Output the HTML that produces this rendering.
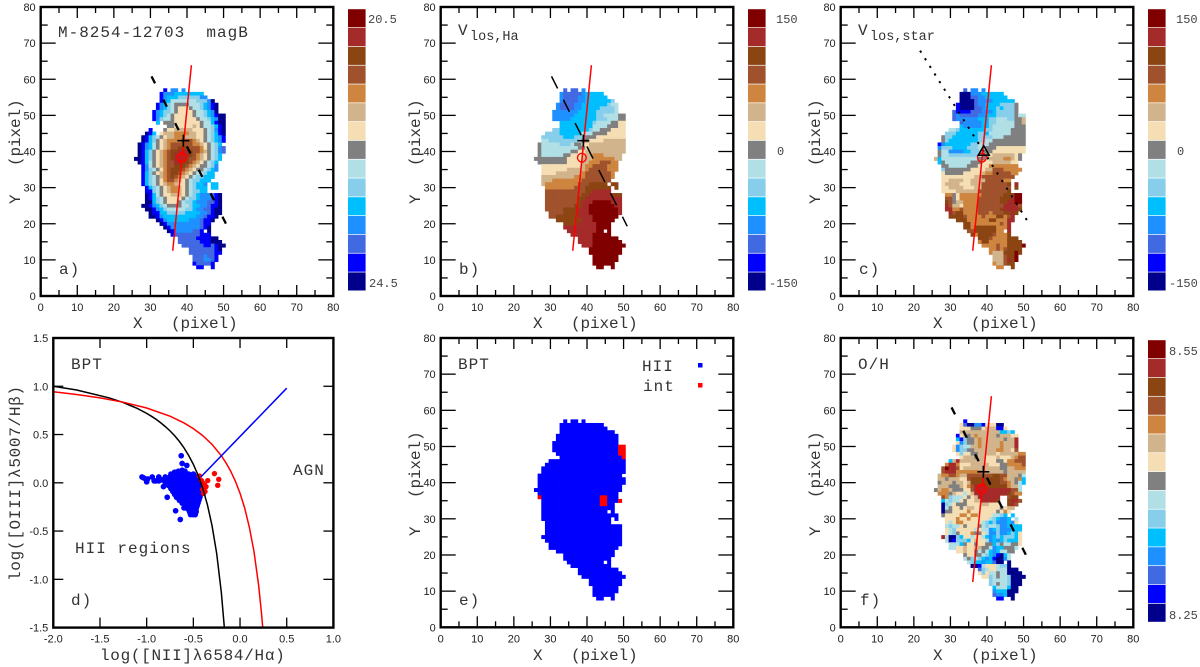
<!DOCTYPE html>
<html lang="en">
<head>
<meta charset="utf-8">
<title>M-8254-12703 maps and BPT diagram</title>
<style>
html,body{margin:0;padding:0;background:#fff;width:1200px;height:667px;overflow:hidden}
svg{display:block}
text{white-space:pre}
.m{font-family:"Liberation Mono",monospace;fill:#333;font-size:16px;letter-spacing:1px}
.a{font-family:"Liberation Mono",monospace;fill:#333;font-size:16px;letter-spacing:-.1px}
.d{font-family:"Liberation Mono",monospace;fill:#333;font-size:16px;letter-spacing:.7px}
.s{font-family:"Liberation Mono",monospace;fill:#333;font-size:13.5px}
.c{font-family:"Liberation Mono",monospace;fill:#444;font-size:12px}
</style>
</head>
<body>
<svg id="figure" xmlns="http://www.w3.org/2000/svg" width="1200" height="667" viewBox="0 0 1200 667">
<rect width="1200" height="667" fill="#fff"/>
<g id="panel-a"></g>
<g id="panel-b"></g>
<g id="panel-c"></g>
<g id="panel-d"></g>
<g id="panel-e"></g>
<g id="panel-f"></g>

<g>
<text class="m" x="58" y="37">M-8254-12703  magB</text>
<text class="m" x="59" y="274">a)</text>
<text class="a" x="133" y="328">X   (pixel)</text>
<text class="a" transform="translate(20,204) rotate(-90)">Y   (pixel)</text>
<text class="c" x="368" y="23">20.5</text>
<text class="c" x="369" y="287">24.5</text>
</g>
<g>
<text class="m" x="458" y="35">V</text>
<text class="s" x="470" y="40">los,Ha</text>
<text class="m" x="459" y="274">b)</text>
<text class="a" x="533" y="328">X   (pixel)</text>
<text class="a" transform="translate(420,204) rotate(-90)">Y   (pixel)</text>
<text class="c" x="776" y="23">150</text>
<text class="c" x="777" y="155">0</text>
<text class="c" x="769" y="287">-150</text>
</g>
<g>
<text class="m" x="858" y="35">V</text>
<text class="s" x="870" y="40">los,star</text>
<text class="m" x="859" y="274">c)</text>
<text class="a" x="933" y="328">X   (pixel)</text>
<text class="a" transform="translate(820,204) rotate(-90)">Y   (pixel)</text>
<text class="c" x="1176" y="23">150</text>
<text class="c" x="1177" y="155">0</text>
<text class="c" x="1169" y="287">-150</text>
</g>
<g>
<text class="m" x="71" y="369">BPT</text>
<text class="m" x="293" y="475">AGN</text>
<text class="m" x="75" y="553">HII regions</text>
<text class="m" x="71" y="605">d)</text>
<text class="d" x="100" y="660">log([NII]λ6584/Hα)</text>
<text class="d" transform="translate(20,581) rotate(-90)">log([OIII]λ5007/Hβ)</text>
</g>
<g>
<text class="m" x="458" y="369">BPT</text>
<text class="m" x="642" y="371">HII</text>
<rect x="698" y="363" width="4.5" height="4.5" fill="#0000ff"/>
<text class="m" x="643" y="391">int</text>
<rect x="698" y="383" width="4.5" height="4.5" fill="#ff0000"/>
<text class="m" x="459" y="605">e)</text>
<text class="a" x="533" y="660">X   (pixel)</text>
<text class="a" transform="translate(420,536) rotate(-90)">Y   (pixel)</text>
</g>
<g>
<text class="m" x="858" y="369">O/H</text>
<text class="m" x="860" y="605">f)</text>
<text class="a" x="933" y="660">X   (pixel)</text>
<text class="a" transform="translate(820,536) rotate(-90)">Y   (pixel)</text>
<text class="c" x="1169" y="355">8.55</text>
<text class="c" x="1169" y="619">8.25</text>
</g>
</svg>

<script>
// Map axis values
const mapTicks = [0,10,20,30,40,50,60,70,80];
const mapMinorTicks = [5,15,25,35,45,55,65,75];
// BPT axis values
const bptXTicks = [-2,-1.5,-1,-0.5,0,0.5,1];
const bptYTicks = [-1.5,-1,-0.5,0,0.5,1,1.5];
const bptXLabels = ["-2.0","-1.5","-1.0","-0.5","0.0","0.5","1.0"];
const bptYLabels = ["-1.5","-1.0","-0.5","0.0","0.5","1.0","1.5"];
// Colour-scale levels, top to bottom
const levelColors = ["#800000","#a52a2a","#8b4513","#a0522d","#cd853f","#d2b48c","#f5deb3","#808080","#b0e0e6","#87ceeb","#00bfff","#1e90ff","#4169e1","#0000ff","#00008b"];
const bptClassColors = ["#0000ff","#ff0000"];

// Overlay values in map pixel units
const paLineX = [36.1,41.2];
const paLineY = [12.5,63.9];
const minorAxisX = [30.3,51];
const minorAxisY = [60.8,19.3];
const starAxisX = [21.7,50.9];
const starAxisY = [67.9,21];
const centreCircle = [38.6,38.3];
const crossCentre = [39,43];
const triangleCentre = [39.1,40.2];

// Map rows: [Y, firstX, level, lastX, level, lastX, ...]; level -1 leaves a gap
const magBRows = [
[57,34,13,34,-1,35,11,37,-1,38,11,39],
[56,33,13,33,11,36,10,44],
[55,33,13,33,11,34,10,37,9,43,11,45],
[54,33,13,33,11,34,10,35,8,42,9,45,11,46,14,47],
[53,32,13,32,11,33,10,34,9,35,8,36,7,40,8,43,9,44,10,45,11,46,13,47,14,48],
[52,32,13,32,11,33,10,34,9,35,8,36,7,37,6,40,7,41,8,43,9,44,10,45,11,46,13,47,14,48],
[51,31,13,31,11,32,10,33,9,35,8,36,7,37,6,41,7,42,8,44,9,45,10,46,11,47,14,48],
[50,31,13,31,11,32,10,33,9,34,8,35,7,36,6,41,7,42,8,44,9,45,10,46,11,47,13,48,14,50],
[49,31,13,31,11,32,9,33,8,35,7,36,6,42,7,43,8,45,9,46,10,47,11,48,14,50],
[48,32,10,32,-1,33,7,36,6,43,7,44,8,46,10,47,13,48,14,50],
[47,35,7,36,6,41,5,42,6,43,7,44,8,46,9,47,10,48,13,49,14,50],
[46,30,13,30,-1,33,7,34,6,36,5,41,6,44,7,45,8,46,9,47,11,48,13,49,14,50],
[45,29,14,29,13,30,10,31,-1,32,6,33,5,36,4,40,5,42,6,44,7,45,8,46,9,47,10,48,13,49,14,50],
[44,28,14,28,13,29,10,30,9,31,8,32,7,33,6,34,5,36,4,39,5,42,6,44,7,45,8,46,9,47,10,48,11,49,13,50],
[43,28,14,28,13,29,10,30,9,31,7,32,6,33,5,34,4,38,3,41,4,42,5,43,6,44,7,45,8,46,9,47,10,48,11,49,13,50],
[42,27,14,27,13,28,11,29,10,30,8,31,7,32,6,33,5,34,4,35,3,41,4,43,5,44,6,45,7,46,8,47,9,48,10,49],
[41,27,14,27,13,28,11,29,10,30,8,31,7,32,6,33,5,34,4,35,3,37,2,40,3,43,4,44,6,45,7,46,8,47,9,48,11,49,12,50],
[40,27,14,27,13,28,10,29,9,30,7,31,6,32,5,33,4,34,3,35,2,37,1,40,2,41,3,43,4,44,5,45,7,46,8,47,9,48,11,49,12,50],
[39,27,14,27,13,28,10,29,9,30,7,31,6,32,5,33,4,34,3,35,2,36,1,40,2,41,3,42,4,43,5,44,6,45,7,46,8,47,9,48,10,49],
[38,26,14,27,13,28,10,29,9,30,7,31,6,32,5,33,4,34,3,35,2,36,1,39,2,40,3,42,4,43,5,44,6,45,7,46,8,47,9,48,10,49],
[37,27,14,27,13,28,10,29,8,30,7,31,6,32,5,33,4,34,3,36,1,38,2,40,3,41,4,42,5,43,6,44,7,45,8,46,9,47,10,48],
[36,28,13,28,11,29,8,30,7,31,6,32,5,33,4,34,3,36,2,39,3,40,4,41,5,42,6,43,7,45,8,46,9,47,11,48],
[35,28,13,28,11,29,9,30,8,31,7,32,6,33,4,34,3,35,2,38,3,39,4,40,5,41,6,42,7,44,8,45,9,46,10,47,11,48],
[34,28,13,28,10,29,9,30,7,31,6,32,5,33,4,34,3,35,2,37,3,38,4,39,5,40,6,41,7,42,8,44,9,45,10,47],
[33,28,13,28,10,29,9,30,8,31,7,32,5,33,4,34,3,35,2,36,3,37,4,38,5,39,6,40,7,41,8,42,9,44,10,47],
[32,28,13,28,10,29,9,30,8,31,7,32,6,33,4,34,3,36,4,37,5,38,6,39,7,40,8,41,9,43,10,46],
[31,28,13,28,10,29,9,30,8,31,7,32,6,33,5,34,4,36,5,37,6,39,7,40,8,41,9,42,10,44,11,45,-1,46,10,48],
[30,29,13,29,10,30,9,31,8,32,7,33,6,34,5,35,4,37,5,38,6,39,7,40,8,41,9,42,10,45,-1,46,10,48],
[29,29,13,30,9,31,8,32,7,33,6,34,5,35,4,37,5,38,6,39,7,40,8,41,9,43,10,45],
[28,29,14,29,13,30,10,31,8,32,7,33,6,35,5,38,6,39,7,40,8,41,9,42,10,43,11,46,12,47,13,48,14,49],
[27,29,14,29,13,30,10,31,9,32,8,33,7,34,6,38,7,39,8,40,9,42,10,43,11,46,12,47,13,48,14,49],
[26,29,14,30,10,31,9,32,8,33,7,34,6,37,7,38,8,39,9,41,10,42,11,45,12,47,13,48,14,49],
[25,28,14,29,13,30,11,31,10,32,9,33,8,34,7,38,8,40,9,41,10,43,11,45,12,46,13,48,14,49],
[24,29,14,30,13,31,11,32,10,33,9,34,8,39,9,41,10,42,11,44,12,46,13,47,14,49],
[23,30,14,30,13,32,10,34,9,39,10,43,11,45,12,46,13,47,14,49],
[22,30,14,31,13,32,11,33,10,42,11,44,12,45,13,47,14,48],
[21,32,14,32,13,33,11,34,10,40,11,43,12,44,13,46,14,47],
[20,33,14,33,13,34,11,43,12,44,13,46],
[19,34,14,34,13,35,11,43,12,44,13,45,14,46],
[18,35,14,35,13,36,11,41,12,43,13,44,-1,45,14,46],
[17,36,13,36,12,43,13,46],
[16,38,12,42,13,46,14,48],
[15,38,12,43,13,46,14,49],
[14,39,12,44,13,46,12,47,13,48,14,50],
[13,41,12,47,13,48,14,49],
[12,41,12,47,13,49],
[11,42,12,44,11,45,12,47,13,48],
[10,42,12,44,11,46,12,47,13,48],
[9,42,13,42,12,46,13,47],
[8,43,13,44,-1,46,13,47]
];

const vlosHaRows = [
[57,34,12,34,-1,35,12,37,-1,38,11,39],
[56,33,11,33,12,38,11,39,10,44],
[55,33,11,33,12,37,11,39,10,45],
[54,33,11,33,12,37,11,39,10,46,9,47],
[53,32,11,32,12,36,11,38,10,45,9,46,8,48],
[52,32,11,32,12,36,11,38,10,43,9,47,8,48],
[51,31,11,37,10,42,9,47,8,48],
[50,31,11,36,10,42,9,44,8,48,7,50],
[49,31,11,35,10,42,9,45,8,48,7,50],
[48,33,10,41,9,42,8,46,7,48,6,50],
[47,33,10,41,8,45,7,48,6,50],
[46,31,9,32,10,40,9,41,8,43,7,46,6,50],
[45,29,9,32,10,38,8,41,7,45,6,50],
[44,28,9,33,10,36,9,39,7,42,6,50],
[43,28,8,29,9,37,8,38,7,40,6,44,5,50],
[42,27,7,27,8,32,9,35,8,36,7,38,6,40,5,50],
[41,27,7,27,8,37,7,39,6,40,5,50],
[40,27,7,27,8,35,7,37,6,39,5,50],
[39,27,7,27,8,33,7,35,6,38,5,41,4,44,5,49],
[38,26,7,34,6,38,5,41,4,47,5,49],
[37,27,7,34,6,38,5,40,4,43,3,46,4,48],
[36,28,6,38,5,39,4,41,3,45,4,48],
[35,28,6,34,5,39,4,40,3,45,4,48],
[34,28,6,31,5,38,4,39,3,46,4,47],
[33,28,5,36,4,39,3,46,4,47],
[32,28,5,30,4,38,3,46],
[31,28,5,28,4,37,3,40,2,45,-1,46,2,48],
[30,29,4,36,3,39,2,46,-1,47,2,48],
[29,29,3,39,2,41,1,46],
[28,29,3,38,2,40,1,46,2,49],
[27,29,3,37,2,39,1,49],
[26,29,3,37,2,38,1,41,0,46,1,49],
[25,29,3,36,2,38,1,40,0,47,1,49],
[24,29,3,33,2,37,1,40,0,48,1,49],
[23,30,3,33,2,37,1,40,0,48,1,49],
[22,30,3,31,2,37,1,41,0,48],
[21,32,2,38,1,41,0,47],
[20,34,2,37,1,42,0,46],
[19,34,1,42,0,46],
[18,35,1,42,0,44,-1,45,0,46],
[17,36,1,41,0,46],
[16,38,1,41,0,48],
[15,38,1,41,0,49],
[14,39,1,41,0,50],
[13,41,0,49],
[12,41,0,49],
[11,42,0,48],
[10,42,0,48],
[9,42,0,47],
[8,43,0,44,-1,46,0,47]
];

const vlosStarRows = [
[57,34,12,34,-1,35,11,37,-1,38,11,39],
[56,33,14,35,11,38,10,44],
[55,33,14,35,12,37,11,39,10,45],
[54,33,14,36,12,37,11,41,10,47],
[53,32,13,32,14,36,12,37,11,39,10,43,9,47,7,48],
[52,32,13,32,14,36,12,38,11,39,10,42,9,43,10,44,9,47,7,48],
[51,31,12,31,13,35,12,38,11,41,10,42,9,47,7,48],
[50,31,12,31,11,32,12,37,11,39,10,42,9,47,7,48,8,50],
[49,31,12,31,11,37,10,40,9,42,8,45,9,47,7,49,5,50],
[48,33,12,33,11,38,10,40,9,42,8,47,7,49,5,50],
[47,33,10,33,11,38,10,40,9,41,8,47,7,50],
[46,30,8,31,9,32,10,39,9,41,8,46,7,50],
[45,29,9,31,10,37,9,39,10,40,8,46,7,50],
[44,28,7,28,9,30,10,37,9,41,8,44,7,50],
[43,28,7,28,9,29,10,37,9,39,8,41,7,50],
[42,27,13,27,11,28,10,35,9,37,8,40,7,50],
[41,27,11,27,9,30,10,34,9,37,8,39,7,42,6,50],
[40,27,7,27,8,29,11,33,10,35,9,38,7,41,6,50],
[39,27,7,27,8,29,9,37,8,38,7,40,6,41,5,47,6,48,7,49],
[38,26,5,26,10,27,8,37,7,39,6,40,5,44,4,46,5,47,6,48,7,49],
[37,27,10,27,7,28,8,35,7,38,6,41,5,46,6,48],
[36,28,7,29,8,34,7,37,6,40,4,48],
[35,28,9,28,7,35,6,39,5,41,3,44,4,49],
[34,28,6,28,7,33,6,38,5,39,4,41,3,46,4,48],
[33,28,6,36,5,38,3,47],
[32,28,6,29,5,33,6,35,5,39,3,44,4,46],
[31,28,6,28,5,32,6,35,5,38,3,45,2,46,-1,47,1,48],
[30,28,6,29,5,33,6,36,5,38,3,46,-1,47,2,48],
[29,28,6,31,5,37,3,45,2,46],
[28,29,4,30,7,31,6,32,4,38,3,44,2,47,0,49],
[27,29,3,30,7,31,6,32,4,37,3,43,2,46,1,47,0,49],
[26,29,2,29,3,30,7,31,5,33,4,37,3,43,2,45,1,47,0,49],
[25,29,1,29,3,30,5,32,6,33,4,37,3,44,1,48,3,49],
[24,29,1,30,4,32,3,33,4,37,3,43,2,44,1,48,2,49],
[23,30,1,30,3,31,2,33,4,37,3,40,4,41,3,44,2,46,1,47,2,48],
[22,30,2,33,3,34,4,38,3,39,4,42,2,44,4,45,3,46,1,47],
[21,32,2,34,4,40,2,42,4,45,1,47],
[20,34,2,35,4,43,3,44,4,45,1,46],
[19,34,2,35,4,36,2,42,4,45,1,46],
[18,35,3,36,2,42,4,44,-1,45,1,46],
[17,36,2,36,4,37,2,41,3,42,4,45,2,46],
[16,38,2,40,3,41,4,45,2,48],
[15,38,4,38,2,40,4,45,2,49],
[14,39,4,42,3,43,4,45,2,49,0,50],
[13,41,4,42,3,43,4,44,3,45,2,49],
[12,41,4,41,5,44,2,47,0,48,2,49],
[11,42,5,44,3,45,2,47,0,48],
[10,42,5,44,3,45,1,46,2,47,0,48],
[9,42,4,42,5,44,3,45,2,47],
[8,43,4,44,-1,46,2,47]
];

// BPT class map: 0 = HII, 1 = intermediate
const bptClassRows = [
[57,34,0,34,-1,35,0,37,-1,38,0,39],
[56,33,0,44],
[55,33,0,45],
[54,33,0,47],
[53,32,0,48],
[52,32,0,48],
[51,31,0,48],
[50,31,0,48,1,50],
[49,31,0,48,1,50],
[48,32,0,48,1,50],
[47,33,0,49,1,50],
[46,30,0,50],
[45,29,0,50],
[44,28,0,50],
[43,28,0,50],
[42,27,0,49],
[41,27,0,50],
[40,27,0,50],
[39,27,0,49],
[38,26,0,49],
[37,27,0,48],
[36,27,1,27,0,43,1,45,0,48],
[35,28,0,43,1,45,0,48,1,49],
[34,28,0,43,1,45,0,47],
[33,28,0,47],
[32,28,0,45,-1,46,0,47],
[31,28,0,48],
[30,28,0,46,-1,47,0,48],
[29,29,0,46],
[28,29,0,49],
[27,29,0,49],
[26,29,0,49],
[25,28,0,49],
[24,29,0,49],
[23,30,0,49],
[22,30,0,48],
[21,32,0,47],
[20,34,0,47],
[19,34,0,46],
[18,35,0,44,-1,45,0,46],
[17,36,0,46],
[16,38,0,48],
[15,38,0,49],
[14,39,0,50],
[13,41,0,49],
[12,41,0,49],
[11,42,0,48],
[10,42,0,48],
[9,42,0,47],
[8,43,0,44,-1,46,0,47]
];

const oxygenRows = [
[57,34,13,34],
[56,33,6,33,12,34,14,36,11,38,13,39,6,42,14,44],
[55,33,6,35,7,38,6,39,5,42,13,44,6,45],
[54,33,5,43,10,45,9,46,10,47],
[53,32,13,32,6,33,5,34,7,35,5,36,4,37,5,42,7,43,5,46,6,48],
[52,32,10,32,13,33,9,34,7,36,5,37,4,38,5,44,7,45,5,47,1,48],
[51,32,6,32,11,33,9,34,7,36,5,37,4,38,5,43,4,44,5,47,1,48],
[50,31,6,31,11,32,9,33,8,35,5,37,4,38,5,43,4,44,5,47,1,48],
[49,31,6,31,11,32,9,34,7,36,5,42,4,44,5,46,6,47,3,48],
[48,32,6,32,9,33,6,35,7,37,5,42,6,43,5,48,4,50],
[47,33,6,33,5,36,7,37,5,39,6,42,5,43,6,46,5,47,4,48,3,50],
[46,30,10,30,5,31,1,32,5,39,6,42,7,44,6,45,4,47,3,50],
[45,29,4,29,1,31,4,32,6,35,5,40,6,43,7,45,4,49,3,50],
[44,28,3,28,0,29,1,31,3,32,6,33,5,43,7,45,5,47,4,50],
[43,28,3,28,1,31,4,38,5,44,7,45,5,50],
[42,27,5,27,4,29,3,31,4,32,5,34,3,41,2,43,3,45,5,48,7,49,8,50],
[41,27,5,28,7,29,5,32,6,34,3,35,2,43,3,44,4,45,5,47,7,48,4,49,10,50],
[40,27,7,27,5,30,7,31,5,33,6,34,5,35,2,43,3,45,4,46,5,47,7,48,8,49,10,50],
[39,27,5,29,7,32,5,33,6,34,4,35,3,36,1,39,2,45,4,46,5,48,8,49],
[38,26,7,26,5,27,4,29,5,30,7,33,6,35,3,36,1,46,3,48,8,49],
[37,27,4,29,7,30,5,31,6,33,8,34,6,35,5,36,1,45,2,46,3,47,4,49],
[36,28,3,28,4,29,9,30,8,33,6,34,7,35,6,36,5,37,1,43,-1,45,3,46,2,48],
[35,28,10,28,8,29,9,30,8,32,6,33,7,34,6,36,5,38,1,42,2,43,-1,45,2,46,1,48,3,49],
[34,28,14,28,9,29,8,30,6,31,7,34,6,38,5,40,6,43,-1,45,2,46,1,47,3,48],
[33,28,14,28,8,29,7,30,6,32,7,33,6,34,5,36,6,43,7,44,6,45,5,47],
[32,28,14,28,7,30,6,34,4,35,6,42,7,43,6,44,4,45,6,46],
[31,28,7,28,6,32,4,34,6,35,4,37,6,41,8,43,9,44,10,45,-1,46,10,47],
[30,29,6,31,4,32,6,34,4,35,6,40,8,41,9,42,10,43,11,45,10,46,-1,47,8,48],
[29,29,6,29,8,30,6,31,4,33,6,38,8,39,9,40,10,41,9,42,11,45,10,46,11,47,6,48],
[28,29,8,29,9,30,8,32,6,33,7,34,6,37,7,38,8,39,9,40,8,42,9,43,11,45,10,49],
[27,29,6,29,8,30,9,31,6,36,8,37,6,38,8,40,11,41,10,42,9,43,11,46,10,49],
[26,29,6,29,8,30,9,31,7,32,6,35,4,36,7,38,6,39,8,40,11,42,9,43,11,45,10,46,9,47,10,48,6,49],
[25,28,1,28,8,29,14,31,9,32,10,33,6,35,8,36,6,38,8,39,10,40,11,41,10,42,9,43,10,44,9,47,10,48,6,49],
[24,29,8,29,14,30,13,31,9,34,10,35,6,36,5,37,6,39,8,40,9,40,11,41,10,42,11,43,10,44,9,45,10,48,6,49],
[23,30,8,32,10,33,7,34,6,36,7,37,6,39,7,41,10,42,9,43,7,44,8,46,7,48,6,49],
[22,30,8,31,6,33,5,34,6,36,5,38,7,40,8,41,11,42,10,44,7,47,8,48],
[21,32,6,33,5,34,6,36,7,37,8,38,7,39,8,40,10,41,11,42,10,43,8,45,7,47],
[20,34,7,34,6,36,7,38,8,39,9,40,10,41,11,42,13,43,14,44,10,45,8,46],
[19,34,8,34,7,35,9,36,8,37,9,38,10,39,11,40,10,41,13,42,14,44,11,45,8,46],
[18,35,8,35,9,36,10,38,11,39,10,41,12,42,14,44,-1,45,14,46],
[17,36,14,37,13,38,8,39,6,42,8,43,9,45,14,46],
[16,38,12,38,9,39,8,40,6,42,8,45,14,48],
[15,38,6,38,9,39,6,40,8,42,7,43,8,45,14,49],
[14,39,6,40,9,41,8,42,7,43,8,45,9,46,14,50],
[13,41,9,41,8,45,9,46,14,49],
[12,41,9,41,8,42,7,43,8,45,9,46,14,49],
[11,42,10,42,8,45,10,46,14,48],
[10,42,11,42,10,45,14,48],
[9,42,12,42,11,44,10,45,14,47],
[8,43,13,44,-1,46,14,47]
];

// BPT diagram values
const kauffmannX = [-2,-1.75,-1.4,-1.25,-1.1,-1,-0.95,-0.9,-0.85,-0.8,-0.75,-0.7,-0.65,-0.6,-0.55,-0.5,-0.45,-0.4,-0.35,-0.3,-0.25,-0.2,-0.168];
const kauffmannY = [1,0.961,0.879,0.831,0.77,0.719,0.69,0.658,0.622,0.582,0.538,0.487,0.429,0.362,0.283,0.191,0.08,-0.056,-0.225,-0.443,-0.733,-1.14,-1.5];
const kewleyX = [-2,-1.75,-1.5,-1.25,-1,-0.75,-0.6,-0.5,-0.4,-0.3,-0.2,-0.15,-0.1,-0.05,0,0.05,0.1,0.15,0.2,0.23,0.243];
const kewleyY = [0.943,0.915,0.88,0.835,0.775,0.69,0.62,0.561,0.489,0.398,0.28,0.206,0.12,0.017,-0.108,-0.262,-0.462,-0.716,-1.069,-1.352,-1.5];
const mixingLineX = [-0.42,0.5];
const mixingLineY = [0.06,0.98];
const hiiPoints = [
[-1.05,0.06],[-1.03,0.05],[-1,0.01],[-0.99,0.04],[-0.94,0.06],[-0.92,0.02],[-0.9,0.02],[-0.87,0.06],[-0.87,0.02],[-0.84,0.03],[-0.82,-0.04],[-0.8,0],[-0.78,-0.02],[-0.78,-0.15],[-0.69,-0.29],[-0.64,-0.38],[-0.63,0.28],[-0.62,0.2],[-0.57,0.18],[-0.6,-0.26],
[-0.7,0.11],[-0.66,0.12],[-0.62,0.13],[-0.59,0.12],
[-0.74,0.09],[-0.7,0.09],[-0.65,0.09],[-0.6,0.09],[-0.55,0.09],[-0.5,0.09],
[-0.8,0.06],[-0.75,0.06],[-0.7,0.06],[-0.65,0.06],[-0.6,0.06],[-0.55,0.06],[-0.5,0.06],[-0.46,0.06],
[-0.8,0.03],[-0.75,0.03],[-0.7,0.03],[-0.65,0.03],[-0.6,0.03],[-0.55,0.03],[-0.5,0.03],[-0.45,0.03],
[-0.78,0],[-0.73,0],[-0.68,0],[-0.63,0],[-0.58,0],[-0.53,0],[-0.48,0],[-0.43,0],
[-0.76,-0.03],[-0.71,-0.03],[-0.66,-0.03],[-0.61,-0.03],[-0.56,-0.03],[-0.51,-0.03],[-0.46,-0.03],[-0.42,-0.03],
[-0.74,-0.06],[-0.69,-0.06],[-0.64,-0.06],[-0.59,-0.06],[-0.54,-0.06],[-0.49,-0.06],[-0.44,-0.06],[-0.41,-0.06],
[-0.72,-0.09],[-0.67,-0.09],[-0.62,-0.09],[-0.57,-0.09],[-0.52,-0.09],[-0.47,-0.09],[-0.41,-0.09],
[-0.7,-0.12],[-0.65,-0.12],[-0.6,-0.12],[-0.55,-0.12],[-0.5,-0.12],[-0.45,-0.12],[-0.42,-0.12],
[-0.68,-0.15],[-0.63,-0.15],[-0.58,-0.15],[-0.53,-0.15],[-0.48,-0.15],[-0.43,-0.15],
[-0.65,-0.18],[-0.6,-0.18],[-0.55,-0.18],[-0.5,-0.18],[-0.44,-0.18],
[-0.62,-0.21],[-0.57,-0.21],[-0.52,-0.21],[-0.45,-0.21],[-0.48,-0.21],
[-0.58,-0.24],[-0.54,-0.24],[-0.5,-0.24],[-0.46,-0.24],
[-0.56,-0.27],[-0.52,-0.27],[-0.47,-0.27],
[-0.54,-0.3],[-0.5,-0.3],[-0.47,-0.3],
[-0.53,-0.33],[-0.5,-0.33],[-0.48,-0.33]
];
const intermediatePoints = [[-0.274,0.095],[-0.228,0.036],[-0.239,-0.026],[-0.346,0.023],[-0.4,0],[-0.364,-0.04],[-0.375,-0.09],[-0.435,0.07],[-0.414,0.023],[-0.4,-0.067],[-0.38,-0.02],[-0.39,-0.11]];

const NS = "http://www.w3.org/2000/svg";
function make(tag, parent, props) {
  const el = document.createElementNS(NS, tag);
  for (const k in props) el.setAttribute(k, props[k]);
  parent.appendChild(el);
  return el;
}
function frameBox(g, box) {
  const el = make("rect", g, {x:box.left, y:box.top, width:box.right-box.left, height:box.bottom-box.top, fill:"none", stroke:"#000", "stroke-width":2.4});
  
  
}
function drawTicks(g, box, sx, sy, xMajor, xMinor, yMajor, yMinor, xLabels, yLabels, lenXMaj, lenYMaj, lenXMin, lenYMin) {
  function tick(x1,y1,x2,y2) {
    const t = make("line", g, {x1:x1,y1:y1,x2:x2,y2:y2,stroke:"#000","stroke-width":1.3});
    
    
  }
  xMajor.forEach(function(v,i){
    const x = sx(v);
    tick(x,box.bottom,x,box.bottom-lenXMaj);
    tick(x,box.top,x,box.top+lenXMaj);
    const lab = make("text", g, {x:x, y:box.bottom+15, "text-anchor":"middle", "font-family":'"Liberation Sans",sans-serif', "font-size":11, fill:"#222"});
    
    
    lab.textContent = xLabels[i];
  });
  xMinor.forEach(function(v){
    const x = sx(v);
    tick(x,box.bottom,x,box.bottom-lenXMin);
    tick(x,box.top,x,box.top+lenXMin);
  });
  yMajor.forEach(function(v,i){
    const y = sy(v);
    tick(box.left,y,box.left+lenYMaj,y);
    tick(box.right,y,box.right-lenYMaj,y);
    const lab = make("text", g, {x:box.left-5, y:y+4, "text-anchor":"end", "font-family":'"Liberation Sans",sans-serif', "font-size":11, fill:"#222"});
    
    
    lab.textContent = yLabels[i];
  });
  yMinor.forEach(function(v){
    const y = sy(v);
    tick(box.left,y,box.left+lenYMin,y);
    tick(box.right,y,box.right-lenYMin,y);
  });
}
function drawColorbar(g, box) {
  const top = box.top + 2.2;
  const h = (box.bottom - box.top - 7) / levelColors.length;
  const x = box.right + 14.7;
  levelColors.forEach(function(color,i){
    const c = make("rect", g, {x:x, y:top+i*h, width:17.6, height:h-0.7, fill:color});
    
    
  });
}
function drawCells(g, rows, colors, sx, sy, ux, uy) {
  rows.forEach(function(row){
    const y = row[0];
    let cx = row[1];
    for (let i = 2; i < row.length; i += 2) {
      const level = row[i], end = row[i+1];
      for (; cx <= end; cx++) {
        if (level < 0) continue;
        const cell = make("rect", g, {x:sx(cx-0.5), y:sy(y+0.5), width:ux+0.35, height:uy+0.35, fill:colors[level]});
        
        
      }
    }
  });
}
function drawOverlay(g, style, sx, sy) {
  if (style.minor === "dotted") {
    const d = make("line", g, {x1:sx(starAxisX[0]),y1:sy(starAxisY[0]),x2:sx(starAxisX[1]),y2:sy(starAxisY[1]),stroke:"#000","stroke-width":2,"stroke-dasharray":"2.2 6.8"});
    
    
  } else {
    const d = make("line", g, {x1:sx(minorAxisX[0]),y1:sy(minorAxisY[0]),x2:sx(minorAxisX[1]),y2:sy(minorAxisY[1]),stroke:"#000","stroke-width":style.minor==="thin"?1.5:2.3,"stroke-dasharray":style.minor==="thin"?"13.5 12.7":"7.8 18.4"});
    
    
  }
  const l = make("line", g, {x1:sx(paLineX[0]),y1:sy(paLineY[0]),x2:sx(paLineX[1]),y2:sy(paLineY[1]),stroke:"#ff0000","stroke-width":1.5});
  
  
  const c = make("circle", g, {cx:sx(centreCircle[0]),cy:sy(centreCircle[1]),r:4.4,fill:"none",stroke:"#ff0000","stroke-width":style.thick?1.8:1.3});
  
  
  if (style.minor === "dotted") {
    const cx = sx(triangleCentre[0]), cy = sy(triangleCentre[1]);
    const t = make("polygon", g, {points:(cx-5.5)+","+(cy+4.5)+" "+(cx+5.5)+","+(cy+4.5)+" "+cx+","+(cy-5),fill:"none",stroke:"#000","stroke-width":1.5});
    
    
  } else {
    const cx = sx(crossCentre[0]), cy = sy(crossCentre[1]);
    const h = make("line", g, {x1:cx-6,y1:cy,x2:cx+6,y2:cy,stroke:"#000","stroke-width":1.6});
    
    
    const v = make("line", g, {x1:cx,y1:cy-6,x2:cx,y2:cy+6,stroke:"#000","stroke-width":1.6});
    
    
  }
}
function drawMapPanel(id, box, rows, colors, overlay, colorbar) {
  const g = document.getElementById(id);
  const ux = (box.right-box.left)/80, uy = (box.bottom-box.top)/80;
  const sx = function(v){return box.left+v*ux;};
  const sy = function(v){return box.bottom-v*uy;};
  drawCells(g, rows, colors, sx, sy, ux, uy);
  if (overlay) drawOverlay(g, overlay, sx, sy);
  drawTicks(g, box, sx, sy, mapTicks, mapMinorTicks, mapTicks, mapMinorTicks, mapTicks, mapTicks, 11, 15, 6, 7);
  frameBox(g, box);
  if (colorbar) drawColorbar(g, box);
}
function drawBptPanel() {
  const g = document.getElementById("panel-d");
  const box = {left:53.3,right:333.4,top:338,bottom:627.6};
  const sx = function(v){return box.left+(v+2)*(box.right-box.left)/3;};
  const sy = function(v){return box.top+(1.5-v)*(box.bottom-box.top)/3;};
  hiiPoints.forEach(function(p){
    const c = make("circle", g, {cx:sx(p[0]),cy:sy(p[1]),r:2.85,fill:"#0000ff"});
    
    
  });
  intermediatePoints.forEach(function(p){
    const c = make("circle", g, {cx:sx(p[0]),cy:sy(p[1]),r:2.7,fill:"#ff0000"});
    
    
  });
  function curve(xs, ys, color) {
    const pts = xs.map(function(x,i){return sx(x)+","+sy(ys[i]);}).join(" ");
    return make("polyline", g, {points:pts,fill:"none",stroke:color,"stroke-width":1.5});
  }
  const ka = curve(kauffmannX, kauffmannY, "#000");
  
  
  const ke = curve(kewleyX, kewleyY, "#ff0000");
  
  
  const mi = curve(mixingLineX, mixingLineY, "#0000ff");
  
  
  drawTicks(g, box, sx, sy, bptXTicks, [], bptYTicks, [], bptXLabels, bptYLabels, 10, 10, 0, 0);
  frameBox(g, box);
}
const topBox = {top:7,bottom:296};
const botBox = {top:338,bottom:627.3};
drawMapPanel("panel-a", {left:40.7,right:333.3,top:topBox.top,bottom:topBox.bottom}, magBRows, levelColors, {minor:"thick",thick:true}, true);
drawMapPanel("panel-b", {left:440.7,right:733.3,top:topBox.top,bottom:topBox.bottom}, vlosHaRows, levelColors, {minor:"thin",thick:false}, true);
drawMapPanel("panel-c", {left:840.7,right:1133.3,top:topBox.top,bottom:topBox.bottom}, vlosStarRows, levelColors, {minor:"dotted",thick:false}, true);
drawBptPanel();
drawMapPanel("panel-e", {left:440.7,right:733.3,top:botBox.top,bottom:botBox.bottom}, bptClassRows, bptClassColors, null, false);
drawMapPanel("panel-f", {left:840.7,right:1133.3,top:botBox.top,bottom:botBox.bottom}, oxygenRows, levelColors, {minor:"thick",thick:true}, true);
</script>
</body>
</html>
